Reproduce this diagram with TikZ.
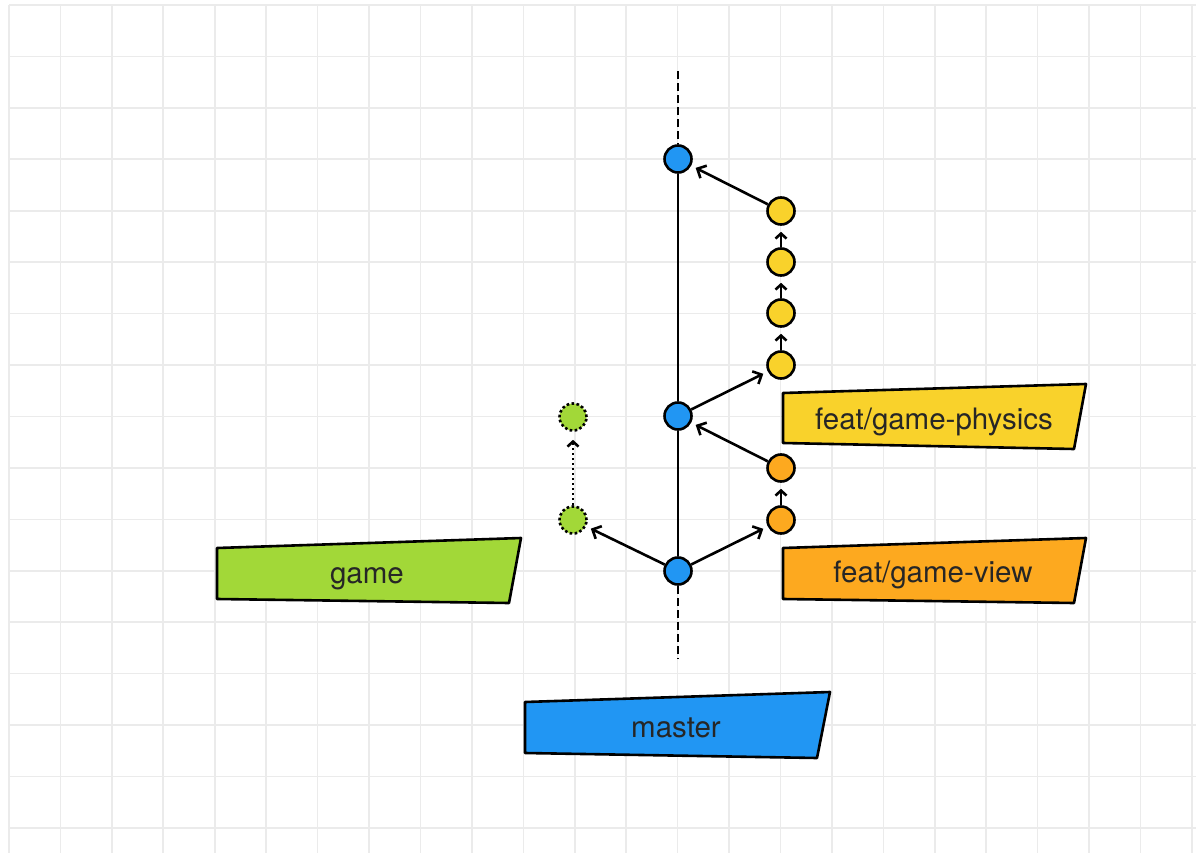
\documentclass[tikz,border=0pt]{standalone}
\usepackage{fontspec}
\setmainfont{TeX Gyre Heros}
\usetikzlibrary{arrows.meta}
\definecolor{gridc}{HTML}{EBEBEB}
\definecolor{cblue}{HTML}{2196F3}
\definecolor{cyellow}{HTML}{F9D22B}
\definecolor{corange}{HTML}{FDA91F}
\definecolor{cgreen}{HTML}{A2D838}
\definecolor{ctext}{HTML}{262626}
\tikzset{
  commit/.style={circle, draw=black, line width=2.6pt, minimum size=27pt, inner sep=0pt},
  bluec/.style={commit, fill=cblue},
  yellowc/.style={commit, fill=cyellow},
  orangec/.style={commit, fill=corange},
  greenc/.style={commit, fill=cgreen, dash pattern=on 2.6pt off 2.4pt, line width=2.6pt},
  conn/.style={line width=2.6pt, -{Straight Barb[length=7pt,width=14pt]}, shorten >=5pt},
  sconn/.style={line width=2.6pt, -{Straight Barb[length=5pt,width=11pt]}, shorten >=6pt},
  trunk/.style={line width=2.6pt},
  dashtrunk/.style={line width=2.6pt, dash pattern=on 8pt off 4pt},
  tag/.style={draw=black, line width=2.6pt, line join=round},
  tagtext/.style={font=\fontsize{29.5}{33}\selectfont, text=ctext, inner sep=0pt, anchor=base}
}
\begin{document}
\begin{tikzpicture}[x=1pt,y=-1pt]
\useasboundingbox (0,0) rectangle (1196,853);
\fill[white] (0,0) rectangle (1196,853);
% grid
\foreach \k in {0,...,23} \draw[gridc, line width=1.6pt] ({9+51.43*\k},5) -- ({9+51.43*\k},853);
\foreach \k in {0,...,16} \draw[gridc, line width=1.6pt] (9,{5+51.43*\k}) -- (1196,{5+51.43*\k});

% labels
\draw[tag, fill=cyellow] (783,393) -- (1086,384) -- (1074,449) -- (783,443) -- cycle;
\node[tagtext] (lphys) at (934,429) {feat/game-physics};
\draw[tag, fill=corange] (783,548) -- (1086,538) -- (1074,603) -- (783,599) -- cycle;
\node[tagtext] (lview) at (933,582) {feat/game-view};
\draw[tag, fill=cgreen] (217,548) -- (521,538) -- (509,603) -- (217,599) -- cycle;
\node[tagtext] (lgame) at (367,583) {game};
\draw[tag, fill=cblue] (525,702) -- (830,692) -- (817,758) -- (525,753) -- cycle;
\node[tagtext] (lmaster) at (676,737) {master};

% commits
\node[bluec] (b1) at (678,159) {};
\node[bluec] (b2) at (678,416) {};
\node[bluec] (b3) at (678,571) {};
\node[yellowc] (y1) at (781,211) {};
\node[yellowc] (y2) at (781,262) {};
\node[yellowc] (y3) at (781,313) {};
\node[yellowc] (y4) at (781,365) {};
\node[orangec] (o1) at (781,468) {};
\node[orangec] (o2) at (781,520) {};
\node[greenc] (g1) at (573,417) {};
\node[greenc] (g2) at (573,520) {};

\coordinate (ttop) at (678,71);
\coordinate (tbot) at (678,659);

% trunk
\draw[dashtrunk] (ttop) -- (b1.north);
\draw[trunk] (b1) -- (b2);
\draw[trunk] (b2) -- (b3);
\draw[dashtrunk] (b3.south) -- (tbot);

% connectors
\draw[conn] (y1) -- (b1);
\draw[sconn] (y2) -- (y1);
\draw[sconn] (y3) -- (y2);
\draw[sconn] (y4) -- (y3);
\draw[conn] (b2) -- (y4);
\draw[conn] (o1) -- (b2);
\draw[sconn] (o2) -- (o1);
\draw[conn] (b3) -- (o2);
\draw[conn] (b3) -- (g2);
\draw[line width=2.6pt, dash pattern=on 2.6pt off 2.4pt, -{Straight Barb[length=5pt,width=11pt]}, shorten >=8pt] (g2) -- (g1);
\end{tikzpicture}
\end{document}
